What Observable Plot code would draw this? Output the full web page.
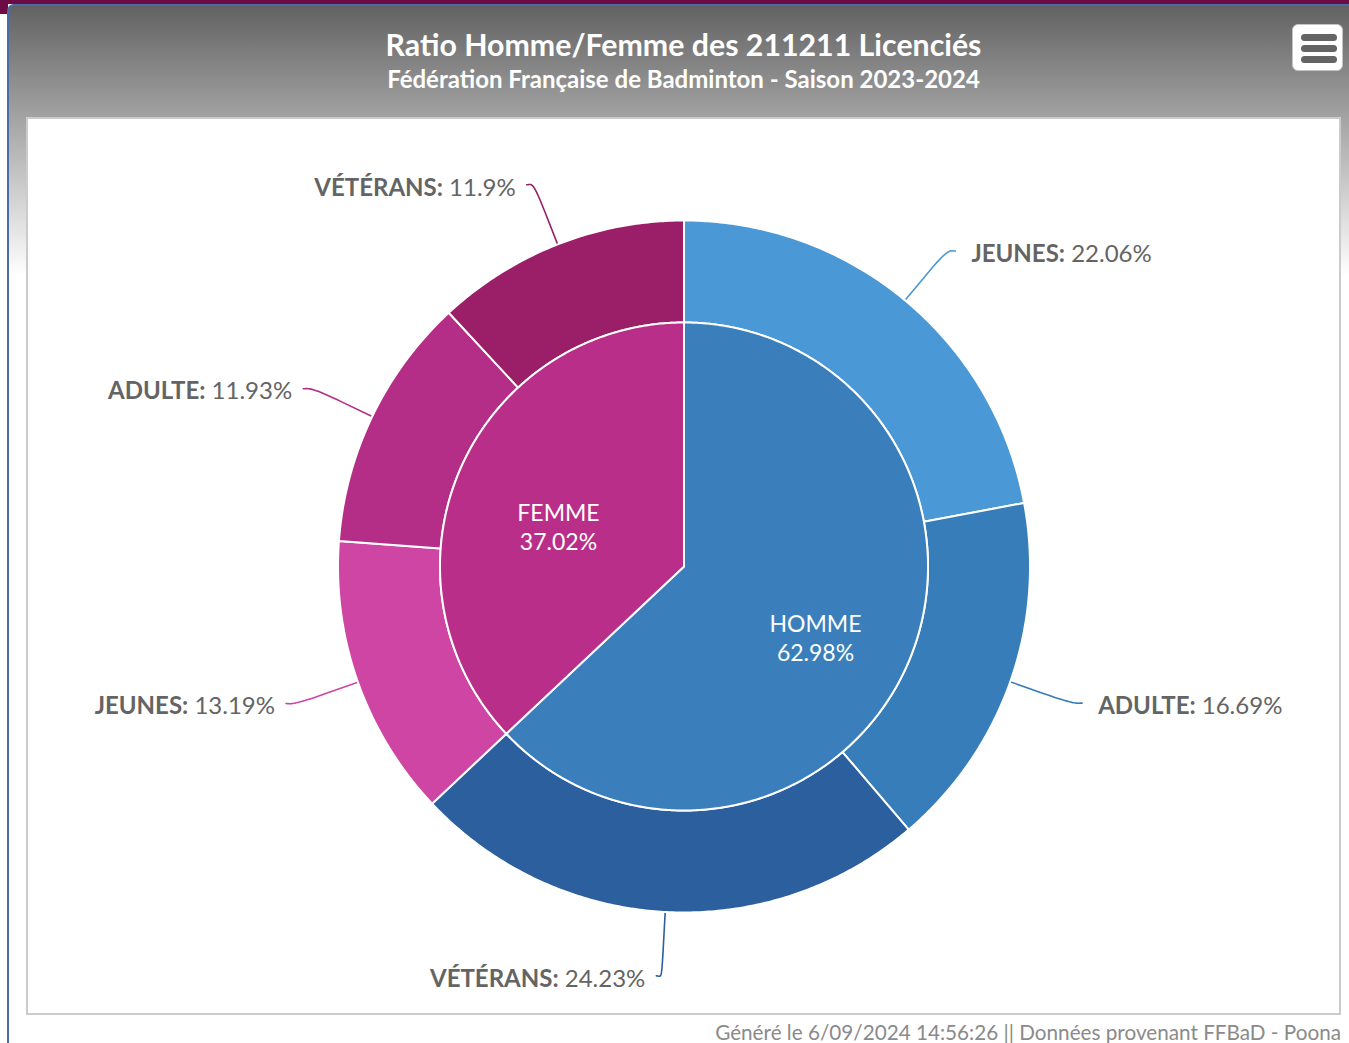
<!DOCTYPE html>
<html><head><meta charset="utf-8">
<script src="https://cdn.jsdelivr.net/npm/d3@7"></script>
<script src="https://cdn.jsdelivr.net/npm/@observablehq/plot@0.6"></script>
<style>
html,body{margin:0;padding:0;background:#fff;}
body{width:1349px;height:1043px;overflow:hidden;position:relative;font-family:Lato,"Open Sans",sans-serif;}
#topbar{position:absolute;left:0;top:0;width:1349px;height:4px;background:#6d0b45;}
#leftmark{position:absolute;left:0;top:0;width:8px;height:14px;background:#6d0b45;}
#panel{position:absolute;left:7px;top:4px;width:1342px;height:1039px;border-left:2px solid #4b6aa9;border-top:2px solid #4b6aa9;border-top-left-radius:7px;background:linear-gradient(#626262 0px,#ffffff 270px);box-sizing:border-box;}
#title{position:absolute;left:26px;width:1315px;top:26px;text-align:center;color:#fff;font-weight:bold;font-size:30.3px;line-height:36px;font-family:Lato,sans-serif;}
#subtitle{position:absolute;left:26px;width:1315px;top:65px;text-align:center;color:#fff;font-weight:bold;font-size:24px;line-height:28px;font-family:Lato,sans-serif;}
#menu{position:absolute;left:1292px;top:24px;width:51px;height:47px;background:#fff;border:1px solid #c4c4c4;border-radius:6px;box-sizing:border-box;}
#menu div{position:absolute;left:8px;width:36px;height:7px;border-radius:3.5px;background:#646464;}
#box{position:absolute;left:26px;top:117px;width:1315px;height:898px;border:2px solid #cbcbcb;background:#fff;box-sizing:border-box;}
#chart{position:absolute;left:28px;top:119px;}
#footer{position:absolute;right:8px;top:1020px;color:#8a8a8a;font-size:20.7px;line-height:24px;font-family:Lato,sans-serif;white-space:nowrap;}
</style></head>
<body>
<div id="topbar"></div><div id="leftmark"></div>
<div id="panel"></div>
<div id="title">Ratio Homme/Femme des 211211 Licenciés</div>
<div id="subtitle">Fédération Française de Badminton - Saison 2023-2024</div>
<div id="menu"><div style="top:9px"></div><div style="top:20px"></div><div style="top:31px"></div></div>
<div id="box"></div>
<div id="chart"></div>
<div id="footer">Généré le 6/09/2024 14:56:26 || Données provenant FFBaD - Poona</div>
<script>
// ---- data ----
const genres = ["HOMME", "FEMME"];
const genrePct = [62.98, 37.02];
const genreColors = ["#3a7fbc", "#b92e88"];
const categories = ["JEUNES", "ADULTE", "VÉTÉRANS"];
const hommePct = [22.06, 16.69, 24.23];
const femmePct = [13.19, 11.93, 11.9];
const hommeColors = ["#4a98d5", "#377db9", "#2b5f9e"];
const femmeColors = ["#cf45a3", "#b42d87", "#9b1e68"];

// ---- layout ----
const W = 1311, H = 894;
const CX = 655.5, CY = 447;
const R_IN = 244, R_OUT = 346;
const TAU = 2 * Math.PI;

function slicePoly(id, color, a0, a1, r0, r1) {
  const pts = [];
  const n = Math.max(2, Math.ceil((a1 - a0) / (0.5 * Math.PI / 180)));
  for (let i = 0; i <= n; i++) {
    const a = a0 + (a1 - a0) * i / n;
    pts.push({id, color, x: r1 * Math.sin(a), y: -r1 * Math.cos(a)});
  }
  if (r0 > 0) {
    for (let i = n; i >= 0; i--) {
      const a = a0 + (a1 - a0) * i / n;
      pts.push({id, color, x: r0 * Math.sin(a), y: -r0 * Math.cos(a)});
    }
  } else pts.push({id, color, x: 0, y: 0});
  return pts;
}

// inner (genre) slices
const inner = [];
let acc = 0;
genres.forEach((g, i) => {
  const a0 = acc / 100 * TAU; acc += genrePct[i]; const a1 = acc / 100 * TAU;
  inner.push({name: g, pct: genrePct[i], color: genreColors[i], a0, a1});
});
// outer (category) slices
const outer = [];
acc = 0;
[[hommePct, hommeColors], [femmePct, femmeColors]].forEach(([vals, cols], gi) => {
  vals.forEach((v, j) => {
    const a0 = acc / 100 * TAU; acc += v; const a1 = acc / 100 * TAU;
    outer.push({name: categories[j], pct: v, color: cols[j], a0, a1, id: gi + "-" + j});
  });
});

const outerPolys = outer.flatMap(d => slicePoly("o" + d.id, d.color, d.a0, d.a1, R_IN, R_OUT));
const innerPolys = inner.flatMap((d, i) => slicePoly("i" + i, d.color, d.a0, d.a1, 0, R_IN));

// connectors + labels
const connectors = [];
const outerLabels = [];
outer.forEach(d => {
  const m = (d.a0 + d.a1) / 2, s = Math.sin(m), c = Math.cos(m);
  const side = s >= 0 ? 1 : -1;
  const touch = [R_OUT * s, -R_OUT * c];
  const brk = [(R_OUT + 35) * s, -(R_OUT + 35) * c];
  const c2 = [2 * brk[0] - touch[0], 2 * brk[1] - touch[1]];
  const E = [417 * s + side * 5, -410 * c];
  const c1 = [E[0] - side * 5, E[1]];
  for (let k = 0; k <= 24; k++) {
    const t = k / 24, u = 1 - t;
    const x = u*u*u*E[0] + 3*u*u*t*c1[0] + 3*u*t*t*c2[0] + t*t*t*brk[0];
    const y = u*u*u*E[1] + 3*u*u*t*c1[1] + 3*u*t*t*c2[1] + t*t*t*brk[1];
    connectors.push({id: d.id, color: d.color, x, y});
  }
  connectors.push({id: d.id, color: d.color, x: touch[0], y: touch[1]});
  outerLabels.push({text: d.name + ": " + d.pct + "%", x: E[0] + (side > 0 ? 16 : -11), y: E[1] + 3, anchor: side > 0 ? "start" : "end"});
});
const innerLabels = inner.map(d => {
  const m = (d.a0 + d.a1) / 2;
  return {text: d.name + "\n" + d.pct + "%", x: 140 * Math.sin(m) + 3, y: -140 * Math.cos(m) + 15};
});

const plot = Plot.plot({
  width: W, height: H, margin: 0,
  x: {domain: [-CX, W - CX], range: [0, W], axis: null},
  y: {domain: [-CY, H - CY], range: [0, H], axis: null},
  color: {type: "identity"},
  style: {background: "transparent", fontFamily: "Lato, sans-serif", overflow: "visible"},
  marks: [
    Plot.line(connectors, {x: "x", y: "y", z: "id", stroke: "color", strokeWidth: 1.6, curve: "linear"}),
    Plot.line(outerPolys, {x: "x", y: "y", z: "id", fill: "color", stroke: "#ffffff", strokeWidth: 2, curve: "linear-closed"}),
    Plot.line(innerPolys, {x: "x", y: "y", z: "id", fill: "color", stroke: "#ffffff", strokeWidth: 2, curve: "linear-closed"}),
    Plot.text(outerLabels.filter(d => d.anchor === "start"), {x: "x", y: "y", text: "text", textAnchor: "start", fill: "#646464", fontSize: 24}),
    Plot.text(outerLabels.filter(d => d.anchor === "end"), {x: "x", y: "y", text: "text", textAnchor: "end", fill: "#646464", fontSize: 24}),
    Plot.text(innerLabels, {x: "x", y: "y", text: "text", fill: "#ffffff", fontSize: 23, lineHeight: 1.27})
  ]
});
document.getElementById("chart").appendChild(plot);

// bold category name, normal value
d3.select(plot).selectAll("text").each(function () {
  if (this.querySelector("tspan")) return;
  const t = this.textContent;
  const k = t.indexOf(":");
  if (k < 0) return;
  const sel = d3.select(this);
  sel.text(null);
  sel.append("tspan").style("font-weight", "bold").text(t.slice(0, k + 1));
  sel.append("tspan").style("font-weight", "normal").text(t.slice(k + 1));
});
</script>
</body></html>
